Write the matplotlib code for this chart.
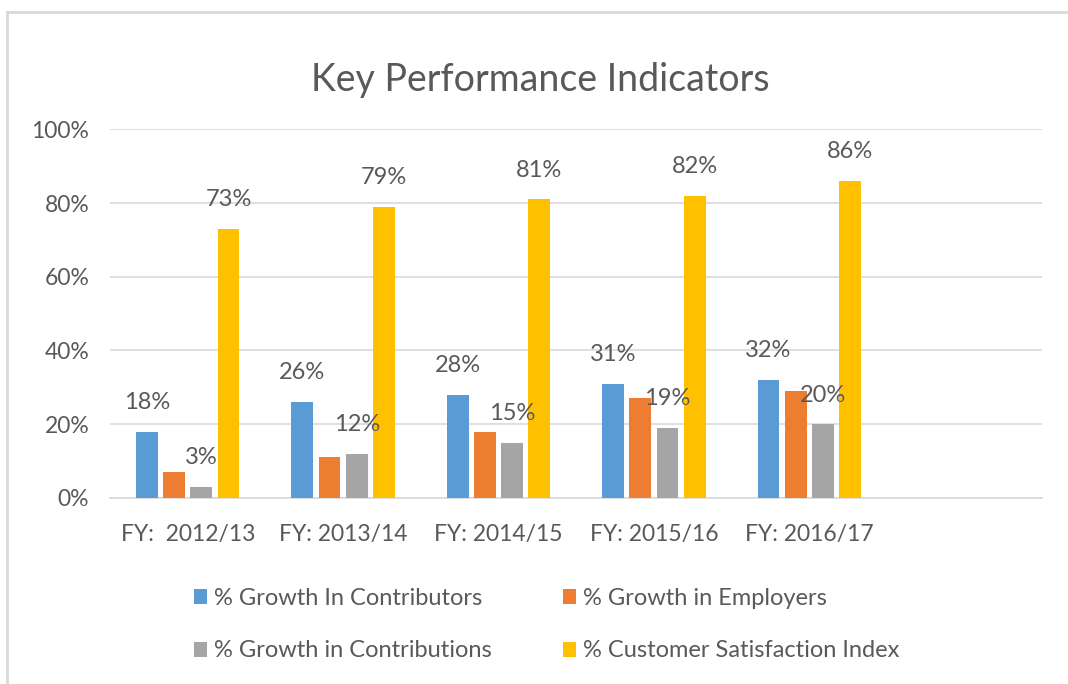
import numpy as np
import matplotlib
matplotlib.use("Agg")
import matplotlib.pyplot as plt
from matplotlib.lines import Line2D
from matplotlib.ticker import FuncFormatter

matplotlib.rcParams['font.family'] = ['Lato', 'DejaVu Sans']

# data
years = ["FY:  2012/13", "FY: 2013/14", "FY: 2014/15", "FY: 2015/16", "FY: 2016/17", ""]
contributors = [18, 26, 28, 31, 32]
employers = [7, 11, 18, 27, 29]
contributions = [3, 12, 15, 19, 20]
satisfaction = [73, 79, 81, 82, 86]

series_names = ["% Growth In Contributors", "% Growth in Employers",
                "% Growth in Contributions", "% Customer Satisfaction Index"]
colors = ["#5B9BD5", "#ED7D31", "#A5A5A5", "#FFC000"]
labelled = [True, False, True, True]

txt = "#595959"

fig = plt.figure(figsize=(10.68, 6.84), dpi=100)
# chart frame (only top and left edges visible in the screenshot)
fig.add_artist(Line2D([0.0065, 0.0065], [0.0, 0.983], transform=fig.transFigure,
                      color="#D9D9D9", linewidth=2))
fig.add_artist(Line2D([0.0065, 1.0], [0.983, 0.983], transform=fig.transFigure,
                      color="#D9D9D9", linewidth=2))

ax = fig.add_axes([0.103, 0.272, 0.873, 0.539])

x = np.arange(len(years))
w = 0.14
step = 0.175
all_series = [contributors, employers, contributions, satisfaction]
handles = []
for i, (vals, c, nm, lab) in enumerate(zip(all_series, colors, series_names, labelled)):
    pos = x[:len(vals)] + (i - 1.5) * step
    bars = ax.bar(pos, np.array(vals) / 100.0, width=w, color=c, label=nm, zorder=3)
    handles.append(bars)
    if lab:
        for p, v in zip(pos, vals):
            ax.annotate("%d%%" % v, (p, v / 100.0), xytext=(0, 21), textcoords="offset points",
                        ha="center", va="center", fontsize=17, color=txt, zorder=4)

ax.set_xlim(-0.5, len(years) - 0.5)
ax.set_ylim(0, 1.0)
ax.set_yticks(np.arange(0, 1.01, 0.2))
ax.yaxis.set_major_formatter(FuncFormatter(lambda v, p: "%d%%" % round(v * 100)))
ax.set_xticks(x)
ax.set_xticklabels(years)
ax.grid(axis="y", color="#D9D9D9", linewidth=1.2, zorder=0)
for s in ["top", "right", "left"]:
    ax.spines[s].set_visible(False)
ax.spines["bottom"].set_color("#D9D9D9")
ax.spines["bottom"].set_linewidth(1.2)
ax.tick_params(axis="both", length=0, labelsize=16.5, labelcolor=txt)
ax.tick_params(axis="x", pad=19)
ax.tick_params(axis="y", pad=15)

fig.suptitle("Key Performance Indicators", x=0.506, y=0.91, fontsize=27, color=txt)

# row-major legend order: matplotlib fills columns first
order = [0, 2, 1, 3]
leg = fig.legend([handles[k] for k in order], [series_names[k] for k in order],
                 loc="center", bbox_to_anchor=(0.512, 0.087), ncol=2, frameon=False,
                 fontsize=17, labelcolor=txt, handlelength=0.55, handleheight=0.6,
                 handletextpad=0.3, columnspacing=3.0, labelspacing=1.35)

plt.savefig("out.png", dpi=100)
